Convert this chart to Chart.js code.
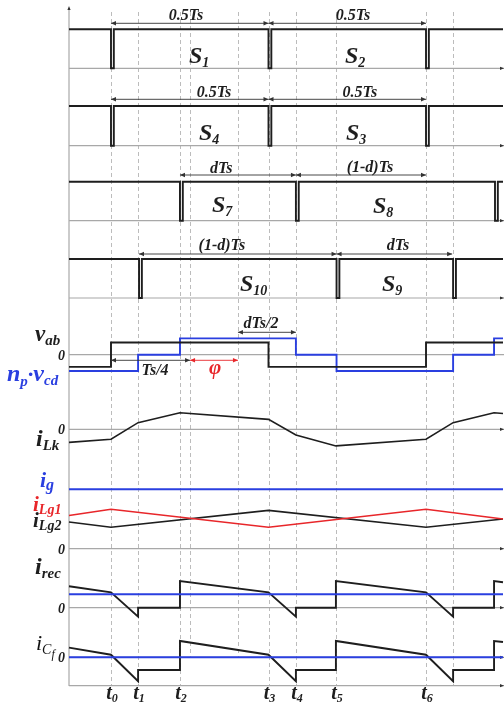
<!DOCTYPE html>
<html><head><meta charset="utf-8">
<script src="https://cdn.jsdelivr.net/npm/chart.js@4"></script>
<style>html,body{margin:0;padding:0;background:#fff}canvas{display:block}</style>
</head><body>
<div style="width:504px;height:704px"><canvas id="c" width="504" height="704"></canvas></div>
<script>
// ---- time instants, as a fraction of the switching period Ts ----
const tickLabels = ['0','1','2','3','4','5','6'];           // subscripts of t0..t6
const tickTimes  = [0, 0.086, 0.219, 0.5, 0.587, 0.714, 1.0];
const extraGuides = [0.251, 0.403, 1.086];
const tStart = -0.1333, tEnd = 1.2444;

// ---- gate signals: dead-time notch instants ----
const s12Edges  = [0, 0.5, 1.0];
const s43Edges  = [0, 0.5, 1.0];
const s78Edges  = [0.219, 0.587, 1.219];
const s109Edges = [0.089, 0.716, 1.086];
const deadTime = 0.009;

// ---- bridge voltages (per unit) ----
const vabTimes = [tStart, 0, 0, 0.5, 0.5, 1.0, 1.0, tEnd];
const vabVals  = [-1, -1, 1, 1, -1, -1, 1, 1];
const vcdTimes = [tStart, 0.086, 0.086, 0.219, 0.219, 0.587, 0.587, 0.716, 0.716, 1.086, 1.086, 1.216, 1.216, tEnd];
const vcdVals  = [-1, -1, 0, 0, 1, 1, 0, 0, -1, -1, 0, 0, 1, 1];

// ---- leakage inductor current (per unit) ----
const iLkTimes = [tStart, 0, 0.086, 0.219, 0.5, 0.587, 0.714, 1.0, 1.086, 1.216, tEnd];
const iLkVals  = [-0.79, -0.6, 0.4, 1, 0.6, -0.34, -1, -0.6, 0.4, 1, 0.95];

// ---- input currents (per unit) ----
const igVal = 2.0;
const iLgTimes = [tStart, 0, 0.5, 1.0, tEnd];
const iLg1Vals = [1.12, 1.33, 0.72, 1.33, 1.0];
const iLg2Vals = [0.9, 0.72, 1.29, 0.72, 1.0];

// ---- rectifier and filter-capacitor currents (per unit of Io) ----
const recTimes = [tStart, 0, 0.086, 0.086, 0.219, 0.219, 0.5, 0.587, 0.587, 0.714, 0.714, 1.0, 1.086, 1.086, 1.216, 1.216, tEnd];
const irecVals = [1.6, 1.15, -0.67, 0, 0, 1.99, 1.15, -0.67, 0, 0, 1.99, 1.15, -0.67, 0, 0, 1.99, 1.9];
const icfVals  = [0.72, 0.19, -1.79, -0.95, -0.95, 1.22, 0.19, -1.79, -0.95, -0.95, 1.22, 0.19, -1.79, -0.95, -0.95, 1.22, 1.14];
const ioVal = 1.0;

// ---- layout of the stacked traces (zero line, pixels per unit) ----
const rows = {
  s12: {base: 68.3, gain: 39},
  s43: {base: 145.7, gain: 39.7},
  s78: {base: 220.7, gain: 39},
  s109:{base: 298, gain: 39},
  v:   {base: 354.7, gain: 12.2},
  vcd: {base: 354.7, gain: 16.3},
  lk:  {base: 429.3, gain: 16.6},
  lg:  {base: 548.7, gain: 29.7},
  rec: {base: 607.7, gain: 13.4},
  cf:  {base: 657.3, gain: 13.4}
};
const BLACK = '#1e1e1e', BLUE = '#2a3fe0', RED = '#e8262a', GRAY = '#a8a8a8';

function gate(edges){
  const p = [{x: tStart, y: 1}];
  edges.forEach(e => { p.push({x:e,y:1},{x:e,y:0},{x:e+deadTime,y:0},{x:e+deadTime,y:1}); });
  p.push({x: tEnd, y: 1});
  return p;
}
function series(times, vals){ return times.map((t,i)=>({x:t, y:vals[i]})); }
function place(pts, row){ const r = rows[row]; return pts.map(p=>({x:p.x, y:r.base - p.y*r.gain})); }
function ds(pts, row, color, w){
  return {data: place(pts,row), showLine:true, borderColor:color, borderWidth:w||1.9,
          pointRadius:0, fill:false, clip:false, borderJoinStyle:'miter', tension:0};
}

const datasets = [
  ds(gate(s12Edges),'s12',BLACK),
  ds(gate(s43Edges),'s43',BLACK),
  ds(gate(s78Edges),'s78',BLACK),
  ds(gate(s109Edges),'s109',BLACK),
  ds(series(vabTimes,vabVals),'v',BLACK),
  ds(series(vcdTimes,vcdVals),'vcd',BLUE),
  ds(series(iLkTimes,iLkVals),'lk',BLACK,1.6),
  ds(series([tStart,tEnd],[igVal,igVal]),'lg',BLUE),
  ds(series(iLgTimes,iLg1Vals),'lg',RED,1.6),
  ds(series(iLgTimes,iLg2Vals),'lg',BLACK,1.6),
  ds(series([tStart,tEnd],[ioVal,ioVal]),'rec',BLUE),
  ds(series(recTimes,irecVals),'rec',BLACK),
  ds(series([tStart,tEnd],[0,0]),'cf',BLUE),
  ds(series(recTimes,icfVals),'cf',BLACK)
];

const FONT = '"Liberation Serif", "Times New Roman", serif';
function rich(ctx, x, y, parts, color, align){
  let w = 0;
  parts.forEach(p=>{ ctx.font = (p[3]||'bold italic ')+p[1]+'px '+FONT; w += ctx.measureText(p[0]).width; });
  let cx = align==='center' ? x - w/2 : (align==='right' ? x - w : x);
  ctx.fillStyle = color || BLACK; ctx.textBaseline = 'alphabetic'; ctx.textAlign = 'left';
  parts.forEach(p=>{ ctx.font = (p[3]||'bold italic ')+p[1]+'px '+FONT; ctx.fillText(p[0], cx, y + (p[2]||0)); cx += ctx.measureText(p[0]).width; });
}
function arrowHead(ctx, x, y, dir, len, half, color){
  ctx.fillStyle = color; ctx.beginPath();
  if (dir==='r'){ ctx.moveTo(x,y); ctx.lineTo(x-len,y-half); ctx.lineTo(x-len,y+half); }
  else if (dir==='l'){ ctx.moveTo(x,y); ctx.lineTo(x+len,y-half); ctx.lineTo(x+len,y+half); }
  else { ctx.moveTo(x,y); ctx.lineTo(x-half,y+len); ctx.lineTo(x+half,y+len); }
  ctx.closePath(); ctx.fill();
}
function dim(ctx, x1, x2, y, color){
  ctx.strokeStyle = color; ctx.lineWidth = 0.9; ctx.setLineDash([]);
  ctx.beginPath(); ctx.moveTo(x1,y); ctx.lineTo(x2,y); ctx.stroke();
  arrowHead(ctx, x1, y, 'l', 5, 2.2, color); arrowHead(ctx, x2, y, 'r', 5, 2.2, color);
}

// dimension annotations: [from time, to time, row-y, label, label centre time, label baseline]
const dims = [
  [0, 0.5, 23.3, '0.5Ts', 0.238, 20], [0.5, 1.0, 23.3, '0.5Ts', 0.768, 20],
  [0, 0.5, 99.3, '0.5Ts', 0.327, 97], [0.5, 1.0, 99.3, '0.5Ts', 0.790, 97],
  [0.219, 0.587, 175, 'dTs', 0.35, 173], [0.587, 1.0, 175, '(1-d)Ts', 0.822, 172],
  [0.089, 0.716, 254, '(1-d)Ts', 0.352, 250], [0.716, 1.083, 254, 'dTs', 0.911, 250],
  [0.403, 0.587, 332.3, 'dTs/2', 0.476, 328], [0, 0.251, 360.3, 'Ts/4', 0.14, 375]
];

const deco = {
  id:'deco',
  beforeDatasetsDraw(chart){
    const ctx = chart.ctx, xs = chart.scales.x, ys = chart.scales.y;
    const L = xs.getPixelForValue(tStart), R = xs.getPixelForValue(tEnd);
    ctx.save();
    // dashed guides
    ctx.strokeStyle = '#b4b4b4'; ctx.lineWidth = 0.9; ctx.setLineDash([4,3]);
    tickTimes.concat(extraGuides).forEach(t=>{
      const x = Math.round(xs.getPixelForValue(t))+0.5;
      const bottom = (t===0.251||t===0.403) ? ys.getPixelForValue(657) : ys.getPixelForValue(685.7);
      ctx.beginPath(); ctx.moveTo(x, ys.getPixelForValue(12)); ctx.lineTo(x, bottom); ctx.stroke();
    });
    ctx.setLineDash([]);
    // horizontal axes
    ctx.strokeStyle = GRAY; ctx.lineWidth = 1.2;
    const axes = [[68.3,1],[145.7,1],[220.7,1],[298,1],[354.7,0],[429.3,1],[548.7,1],[607.7,1],[657.3,1],[685.7,1]];
    axes.forEach(a=>{
      const y = ys.getPixelForValue(a[0]);
      ctx.beginPath(); ctx.moveTo(L, y); ctx.lineTo(R+1, y); ctx.stroke();
      if (a[1]) arrowHead(ctx, R+1, y, 'r', 4, 1.6, '#333');
    });
    // vertical axis
    ctx.beginPath(); ctx.moveTo(L, ys.getPixelForValue(8)); ctx.lineTo(L, ys.getPixelForValue(686)); ctx.stroke();
    arrowHead(ctx, L, ys.getPixelForValue(6), 'u', 4, 1.6, '#333');
    ctx.restore();
  },
  afterDatasetsDraw(chart){
    const ctx = chart.ctx, xs = chart.scales.x, ys = chart.scales.y;
    const X = t=>xs.getPixelForValue(t), Y = v=>ys.getPixelForValue(v);
    ctx.save();
    dims.forEach(d=>{
      dim(ctx, X(d[0]), X(d[1]), Y(d[2]), '#333');
      rich(ctx, X(d[4]), Y(d[5]), [[d[3],16]], BLACK, 'center');
    });
    dim(ctx, X(0.251), X(0.403), Y(360.3), RED);
    rich(ctx, X(0.331), Y(374), [['φ',21]], RED, 'center');
    // switch names
    const sw = [['S','1',189,63],['S','2',345,63],['S','4',199,140],['S','3',346,140],
                ['S','7',212,212],['S','8',373,213],['S','10',240,291],['S','9',382,291]];
    sw.forEach(s=> rich(ctx, s[2], Y(s[3]), [[s[0],24],[s[1],14,4]], BLACK));
    // trace names
    rich(ctx, 35, Y(341), [['v',23],['ab',15,4]], BLACK);
    rich(ctx, 7, Y(381), [['n',24],['p',15,5],['·',22],['v',24],['cd',15,4]], BLUE);
    rich(ctx, 36, Y(446), [['i',24],['Lk',15,4]], BLACK);
    rich(ctx, 40, Y(487), [['i',22],['g',16,3]], BLUE);
    rich(ctx, 33, Y(511), [['i',21],['Lg1',14,3]], RED);
    rich(ctx, 33, Y(527), [['i',21],['Lg2',14,3]], BLACK);
    rich(ctx, 35, Y(574), [['i',24],['rec',15,4]], BLACK);
    rich(ctx, 36, Y(650), [['i',22,0,'italic '],['C',14,4,'italic '],['f',12,8,'italic ']], '#111');
    // zero marks
    [354.7, 429.3, 548.7, 607.7, 657.3].forEach(z=> rich(ctx, 65, Y(z+5), [['0',14]], BLACK, 'right'));
    // time ticks
    tickTimes.forEach((t,i)=> rich(ctx, X(t)+1, Y(699), [['t',20],[tickLabels[i],12,3]], BLACK, 'center'));
    ctx.restore();
  }
};

new Chart(document.getElementById('c').getContext('2d'), {
  type: 'scatter',
  data: {datasets},
  options: {
    responsive: false, animation: false, events: [],
    layout: {padding: {left: 69, right: 1, top: 0, bottom: 0}},
    scales: {
      x: {type:'linear', min: tStart, max: tEnd, display: false},
      y: {type:'linear', min: 0, max: 704, reverse: true, display: false}
    },
    plugins: {legend: {display:false}, tooltip: {enabled:false}},
    elements: {point: {radius: 0}}
  },
  plugins: [deco]
});
</script>
</body></html>
